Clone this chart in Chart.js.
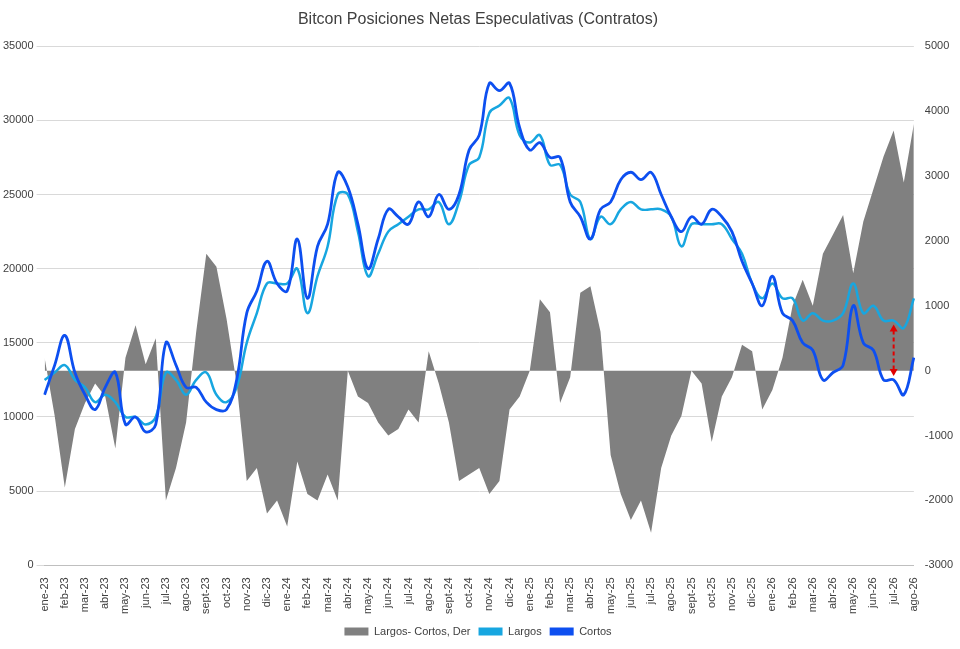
<!DOCTYPE html>
<html><head><meta charset="utf-8">
<script src="https://cdn.jsdelivr.net/npm/chart.js@4.4.1/dist/chart.umd.min.js"></script>
<style>html,body{margin:0;background:#fff}#w{width:960px;height:649px}</style>
</head><body><div id="w"><canvas id="c"></canvas></div>
<script>
const months = ["ene-23","feb-23","mar-23","abr-23","may-23","jun-23","jul-23","ago-23","sept-23","oct-23","nov-23","dic-23","ene-24","feb-24","mar-24","abr-24","may-24","jun-24","jul-24","ago-24","sept-24","oct-24","nov-24","dic-24","ene-25","feb-25","mar-25","abr-25","may-25","jun-25","jul-25","ago-25","sept-25","oct-25","nov-25","dic-25","ene-26","feb-26","mar-26","abr-26","may-26","jun-26","jul-26","ago-26"];
const largos = [12500,13000,13500,12500,12000,11000,11500,11000,10000,10000,9500,10000,13000,12500,11500,12500,13000,11500,11000,12000,15000,17000,19000,19000,19000,20000,17000,19500,21500,25000,25000,22500,19500,21000,22500,23000,23500,24000,24000,24500,23000,24500,27000,27500,30500,31000,31500,29000,28500,29000,27000,27000,25000,24500,22000,23500,23000,24000,24500,24000,24000,24000,23500,21500,23000,23000,23000,23000,22000,21000,19000,18000,19000,18000,18000,16500,17000,16500,16500,17000,19000,17000,17500,16500,16500,16000,18000];
const cortos = [11500,13500,15500,13000,11500,10500,12000,13000,9500,10000,9000,9500,15000,13500,12000,12000,11000,10500,10500,12500,17000,18500,20500,19000,18500,22000,18000,21500,23000,26500,25500,23000,20000,22000,24000,23500,23000,24500,23500,25000,24000,25000,28000,29000,32500,32000,32500,29500,28000,28500,27500,27500,24500,23500,22000,24000,24500,26000,26500,26000,26500,25000,23500,22500,23500,23000,24000,23500,22500,20500,19000,17500,19500,17000,16500,15000,14500,12500,13000,13500,17500,15000,14500,12500,12500,11500,14000];
const netos = [200,-700,-1800,-900,-500,-200,-400,-1200,200,700,100,500,-2000,-1500,-800,600,1800,1600,800,-200,-1700,-1500,-2200,-2000,-2400,-1400,-1900,-2000,-1600,-2000,0,-400,-500,-800,-1000,-900,-600,-800,300,-200,-800,-1700,-1600,-1500,-1900,-1700,-600,-400,0,1100,900,-500,-100,1200,1300,600,-1300,-1900,-2300,-2000,-2500,-1500,-1000,-700,0,-200,-1100,-400,-100,400,300,-600,-300,200,1000,1400,1000,1800,2100,2400,1500,2300,2800,3300,3700,2900,3800];
const labels = largos.map((_, i) => i % 2 === 0 ? months[i / 2] : "");
const arrowIdx = 84;

const arrow = {id:'arrow', afterDatasetsDraw(ch){
  const x = ch.scales.x.getPixelForValue(arrowIdx), y = ch.scales.y;
  const y1 = y.getPixelForValue(largos[arrowIdx]) + 4, y2 = y.getPixelForValue(cortos[arrowIdx]) - 4;
  const c = ch.ctx; c.save(); c.strokeStyle = '#e00000'; c.fillStyle = '#e00000'; c.lineWidth = 2; c.setLineDash([4,3]);
  c.beginPath(); c.moveTo(x, y1+6); c.lineTo(x, y2-6); c.stroke(); c.setLineDash([]);
  c.beginPath(); c.moveTo(x, y1); c.lineTo(x-4, y1+7); c.lineTo(x+4, y1+7); c.fill();
  c.beginPath(); c.moveTo(x, y2); c.lineTo(x-4, y2-7); c.lineTo(x+4, y2-7); c.fill();
  c.restore();
}};
const fnt = {family:'Liberation Sans', size:11};
const plain = v => String(v);

new Chart(document.getElementById('c'), {
  type: 'line',
  data: { labels, datasets: [
    {label:'Largos- Cortos, Der', data: netos, yAxisID:'y1', fill:'origin', backgroundColor:'#808080', borderColor:'#808080', borderWidth:0, pointRadius:0, tension:0, order:3},
    {label:'Largos', data: largos, yAxisID:'y', borderColor:'#17a6e0', backgroundColor:'#17a6e0', borderWidth:2.5, pointRadius:0, tension:0.4, fill:false, order:2},
    {label:'Cortos', data: cortos, yAxisID:'y', borderColor:'#0d4ff0', backgroundColor:'#0d4ff0', borderWidth:2.8, pointRadius:0, tension:0.4, fill:false, order:1}
  ]},
  options: {
    responsive:true, maintainAspectRatio:false, animation:false,
    layout:{padding:{left:0,right:4,top:2,bottom:2}},
    plugins:{
      title:{display:true, text:'Bitcon Posiciones Netas Especulativas (Contratos)', color:'#404040', font:{family:'Liberation Sans', size:16, weight:'normal'}, padding:{top:8,bottom:17}},
      legend:{position:'bottom', labels:{color:'#404040', font:fnt, boxWidth:24, boxHeight:8, padding:8,
        generateLabels(ch){ return ch.data.datasets.map((d,i)=>({text:d.label, fillStyle:d.backgroundColor, strokeStyle:d.borderColor, lineWidth:0, datasetIndex:i, fontColor:'#404040', hidden:false})); }}},
      tooltip:{enabled:false}
    },
    scales:{
      x:{offset:false, grid:{display:false}, border:{color:'#bfbfbf'}, ticks:{autoSkip:false, maxRotation:90, minRotation:90, color:'#404040', font:fnt, padding:4}},
      y:{position:'left', min:0, max:35000, ticks:{stepSize:5000, color:'#404040', font:fnt, callback:plain}, grid:{color:'#d9d9d9'}, border:{display:false}},
      y1:{position:'right', min:-3000, max:5000, ticks:{stepSize:1000, color:'#404040', font:fnt, callback:plain}, grid:{display:false}, border:{display:false}}
    }
  },
  plugins:[arrow]
});
</script></body></html>
